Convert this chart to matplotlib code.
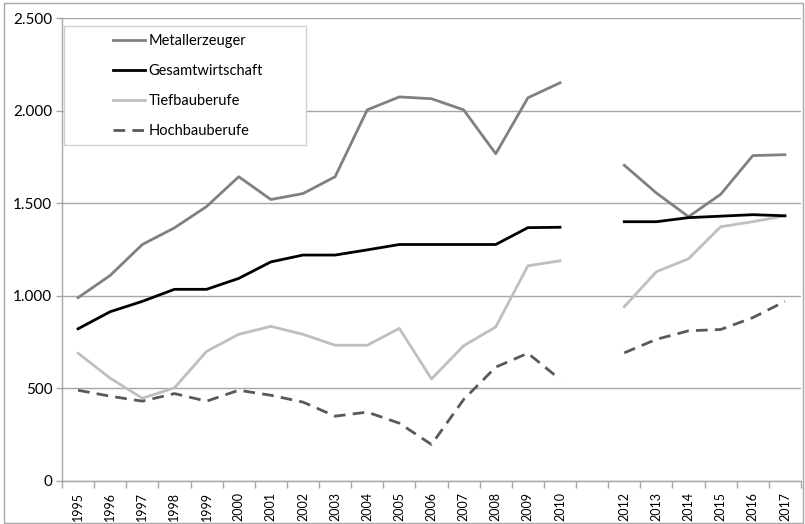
import numpy as np
import matplotlib
matplotlib.use("Agg")
import matplotlib.pyplot as plt
from matplotlib.ticker import FuncFormatter, FixedLocator
from matplotlib.patches import Rectangle

plt.rcParams['font.family'] = ['Lato', 'DejaVu Sans']

years = ["1995", "1996", "1997", "1998", "1999", "2000", "2001", "2002", "2003",
         "2004", "2005", "2006", "2007", "2008", "2009", "2010", "",
         "2012", "2013", "2014", "2015", "2016", "2017"]
nan = np.nan
metallerzeuger = [990, 1110, 1277, 1367, 1482, 1643, 1520, 1552, 1643,
                  2004, 2074, 2064, 2004, 1767, 2069, 2150, nan,
                  1705, 1555, 1427, 1548, 1757, 1762]
gesamtwirtschaft = [822, 914, 970, 1035, 1035, 1094, 1183, 1220, 1220,
                    1248, 1277, 1277, 1277, 1277, 1368, 1370, nan,
                    1400, 1400, 1422, 1430, 1438, 1432]
tiefbauberufe = [690, 555, 447, 503, 700, 792, 835, 792, 733,
                 733, 824, 551, 730, 832, 1162, 1189, nan,
                 941, 1130, 1200, 1373, 1400, 1432]
hochbauberufe = [490, 458, 431, 472, 431, 490, 463, 426, 350,
                 372, 312, 197, 440, 615, 690, 549, nan,
                 692, 765, 811, 818, 882, 970]

fig = plt.figure(figsize=(8.05, 5.24), dpi=100)
W, H = 805, 524
ax = fig.add_axes([62 / W, 1 - 481 / H, (801 - 62) / W, (481 - 18) / H])

x = np.arange(len(years))
grid_c = "#a6a6a6"

ax.plot(x, metallerzeuger, color="#808080", lw=2.0, label="Metallerzeuger", zorder=3)
ax.plot(x, gesamtwirtschaft, color="#000000", lw=2.0, label="Gesamtwirtschaft", zorder=4)
ax.plot(x, tiefbauberufe, color="#bfbfbf", lw=2.0, label="Tiefbauberufe", zorder=3)
ax.plot(x, hochbauberufe, color="#595959", lw=2.0, ls=(0, (4.2, 2.6)),
        label="Hochbauberufe", zorder=3)

ax.set_xlim(-0.5, len(years) - 0.5)
ax.set_ylim(0, 2500)

ax.set_yticks(np.arange(0, 2501, 500))
ax.yaxis.set_major_formatter(FuncFormatter(lambda v, p: f"{v:,.0f}".replace(",", ".")))
ax.yaxis.grid(True, color=grid_c, lw=1.0)
ax.set_axisbelow(True)

ax.set_xticks(x)
ax.set_xticklabels(years, rotation=90, fontsize=9)
ax.xaxis.set_minor_locator(FixedLocator(np.arange(-0.5, len(years), 1.0)))
ax.tick_params(axis="x", which="major", length=0, pad=8)
ax.tick_params(axis="x", which="minor", length=5, color=grid_c, width=1)
ax.tick_params(axis="y", length=4, color=grid_c, width=1, labelsize=11, pad=3)

for s in ["top", "right"]:
    ax.spines[s].set_visible(False)
for s in ["left", "bottom"]:
    ax.spines[s].set_color(grid_c)
    ax.spines[s].set_linewidth(1.0)

# legend frame
ax.add_patch(Rectangle((64, H - 145), 306 - 64, 145 - 26, transform=None,
                       facecolor="white", edgecolor="#d0d0d0", lw=1.0, zorder=5))
leg = ax.legend(loc="upper left", bbox_to_anchor=(113 / W, 1 - 34 / H),
                bbox_transform=fig.transFigure, frameon=False, fontsize=10.5,
                handlelength=2.2, handletextpad=0.25, labelspacing=1.1,
                borderpad=0, borderaxespad=0)
leg.set_zorder(6)

# outer border
fig.add_artist(Rectangle((4 / W, 1 / H), (803 - 4) / W, (521 - 1) / H,
                         transform=fig.transFigure, facecolor="none",
                         edgecolor="#a6a6a6", lw=1.0))

fig.savefig("out.png", dpi=100)
